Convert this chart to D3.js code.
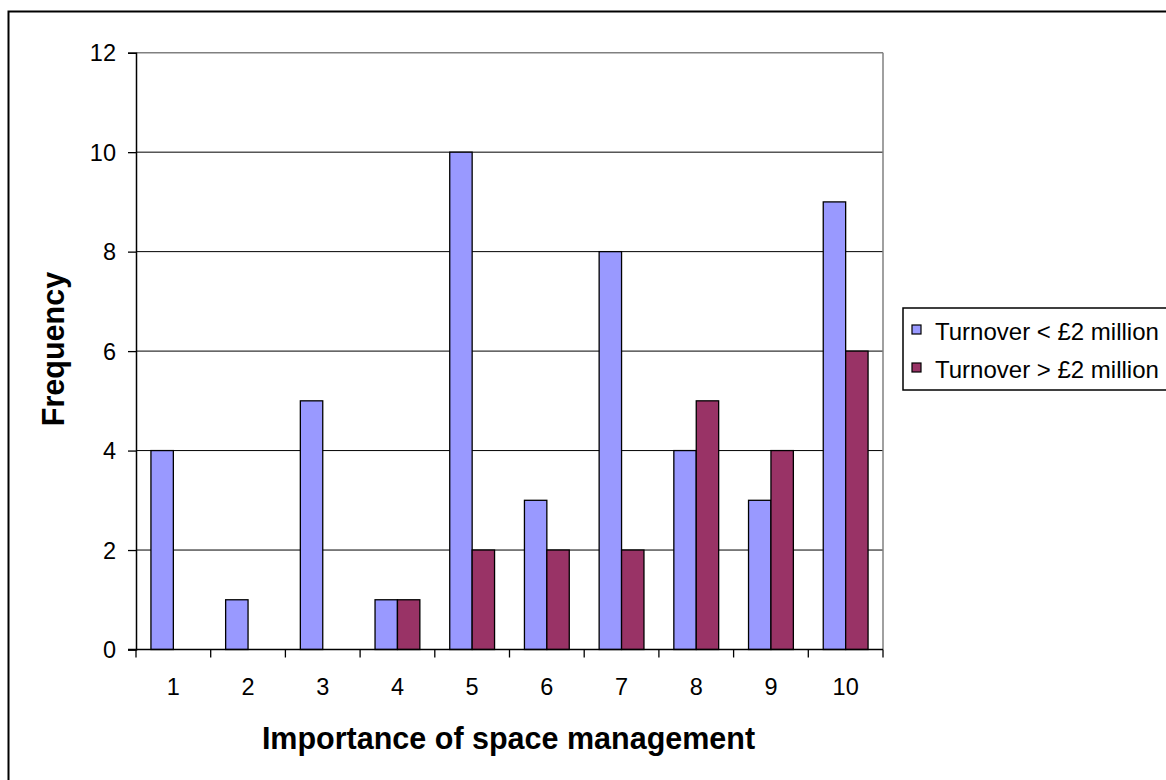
<!DOCTYPE html>
<html>
<head>
<meta charset="utf-8">
<script src="https://cdn.jsdelivr.net/npm/d3@7"></script>
<style>
  html, body { margin: 0; padding: 0; background: #fff; }
  svg { display: block; }
  text { font-family: "Liberation Sans", Arial, sans-serif; fill: #000; }
</style>
</head>
<body>
<svg id="chart" width="1166" height="780"></svg>
<script>
// Survey results: importance rating vs. number of respondents
const categories = ["1", "2", "3", "4", "5", "6", "7", "8", "9", "10"];
const seriesNames = ["Turnover < £2 million", "Turnover > £2 million"];
const smallTurnover = [4, 1, 5, 1, 10, 3, 8, 4, 3, 9];
const largeTurnover = [0, 0, 0, 1, 2, 2, 2, 5, 4, 6];
const yTicks = [0, 2, 4, 6, 8, 10, 12];
const colors = ["#9999FF", "#993366"];

const svg = d3.select("#chart");

// outer chart frame (runs off the right and bottom edges)
svg.append("rect")
  .attr("x", 8.5).attr("y", 11.5)
  .attr("width", 1200).attr("height", 800)
  .attr("fill", "#fff").attr("stroke", "#000").attr("stroke-width", 2);

const plot = { left: 136, right: 883, top: 52.7, bottom: 649.5 };

const x = d3.scaleBand()
  .domain(categories)
  .range([plot.left, plot.right])
  .paddingInner(0).paddingOuter(0);

const y = d3.scaleLinear()
  .domain([0, 12])
  .range([plot.bottom, plot.top]);

// horizontal gridlines
svg.append("g")
  .selectAll("line")
  .data(yTicks.filter(d => d > 0 && d < 12))
  .join("line")
  .attr("x1", plot.left).attr("x2", plot.right)
  .attr("y1", d => y(d)).attr("y2", d => y(d))
  .attr("stroke", "#000").attr("stroke-width", 1);

// plot area border: grey top and right edges
svg.append("line")
  .attr("x1", plot.left).attr("x2", plot.right)
  .attr("y1", y(12)).attr("y2", y(12))
  .attr("stroke", "#808080").attr("stroke-width", 1.5);
svg.append("line")
  .attr("x1", plot.right).attr("x2", plot.right)
  .attr("y1", y(12)).attr("y2", y(0))
  .attr("stroke", "#808080").attr("stroke-width", 1.5);

// bars
const barW = x.bandwidth() * 0.3;
const series = [smallTurnover, largeTurnover];
series.forEach((vals, si) => {
  svg.append("g")
    .selectAll("rect")
    .data(vals.map((v, i) => ({ cat: categories[i], v })).filter(d => d.v > 0))
    .join("rect")
    .attr("x", d => x(d.cat) + x.bandwidth() / 2 - barW + si * barW)
    .attr("y", d => y(d.v))
    .attr("width", barW)
    .attr("height", d => y(0) - y(d.v))
    .attr("fill", colors[si])
    .attr("stroke", "#000")
    .attr("stroke-width", 1.3);
});

// y axis
const yAxis = svg.append("g")
  .attr("transform", `translate(${plot.left},0)`)
  .call(d3.axisLeft(y).tickValues(yTicks).tickSize(8).tickPadding(12).tickFormat(d3.format("d")));
yAxis.attr("font-size", null).attr("font-family", null);
yAxis.select(".domain").attr("stroke", "#000").attr("stroke-width", 1.5);
yAxis.selectAll(".tick line").attr("stroke", "#000").attr("stroke-width", 1.3);
yAxis.selectAll(".tick text")
  .style("font-size", "23.5px")
  .attr("fill", "#000").attr("dy", "0.35em");

// x axis: ticks sit on category boundaries, labels in band centres
const xAxis = svg.append("g")
  .attr("transform", `translate(0,${plot.bottom})`);
xAxis.append("line")
  .attr("x1", plot.left - 8).attr("x2", plot.right)
  .attr("stroke", "#000").attr("stroke-width", 1.5);
const boundaries = categories.map(c => x(c)).concat([plot.right]);
xAxis.selectAll("line.tick")
  .data(boundaries)
  .join("line")
  .attr("class", "tick")
  .attr("x1", d => d).attr("x2", d => d)
  .attr("y1", 0).attr("y2", 8)
  .attr("stroke", "#000").attr("stroke-width", 1.3);
xAxis.selectAll("text")
  .data(categories)
  .join("text")
  .attr("x", d => x(d) + x.bandwidth() / 2)
  .attr("y", 45.5)
  .attr("text-anchor", "middle")
  .style("font-size", "23.5px")
  .text(d => d);

// axis titles
svg.append("text")
  .attr("x", (plot.left + plot.right) / 2 - 1)
  .attr("y", 749)
  .attr("text-anchor", "middle")
  .style("font-size", "30.5px")
  .attr("font-weight", "bold")
  .text("Importance of space management");

svg.append("text")
  .attr("transform", `translate(64,349) rotate(-90)`)
  .attr("text-anchor", "middle")
  .style("font-size", "30.5px")
  .attr("font-weight", "bold")
  .text("Frequency");

// legend
const legend = svg.append("g");
legend.append("rect")
  .attr("x", 903).attr("y", 308)
  .attr("width", 300).attr("height", 82)
  .attr("fill", "#fff").attr("stroke", "#000").attr("stroke-width", 1.5);
seriesNames.forEach((name, i) => {
  const baseY = 340 + i * 38;
  legend.append("rect")
    .attr("x", 912).attr("y", baseY - 15)
    .attr("width", 9).attr("height", 9)
    .attr("fill", colors[i]).attr("stroke", "#000").attr("stroke-width", 1.2);
  legend.append("text")
    .attr("x", 935).attr("y", baseY)
    .style("font-size", "24px")
    .text(name);
});
</script>
</body>
</html>
